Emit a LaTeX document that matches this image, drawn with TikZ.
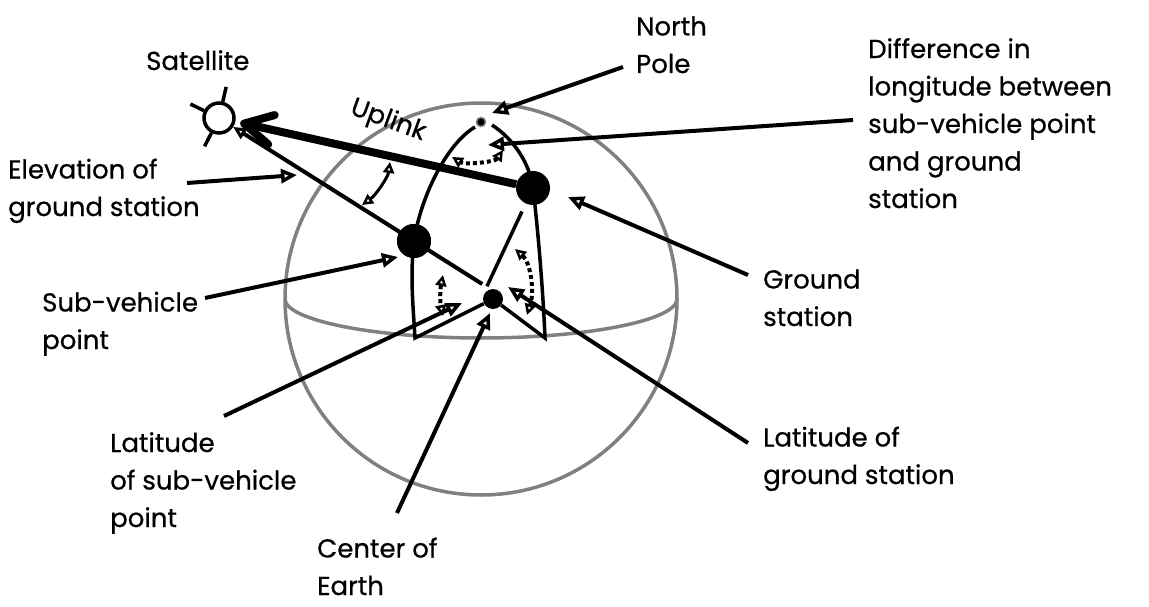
\documentclass[tikz,border=0pt]{standalone}
\usepackage{fontspec}
\setmainfont{Poppins}[FakeBold=0.6]
\usepackage{tikz}
\usetikzlibrary{arrows.meta,calc}
\definecolor{terre}{gray}{0.5}

\begin{document}
\begin{tikzpicture}[x=1pt,y=-1pt,
  etiquette/.style={anchor=base west,align=left,inner sep=0pt,
    font=\fontsize{26}{37.5}\selectfont},
  point/.style={circle,fill,inner sep=0pt,minimum size=#1},
  meridien/.style={line width=3.5pt},
  renvoi/.style={line width=4pt,
    -{Triangle[open,length=16pt,width=14pt,line width=3.5pt]}},
  pointille/.style={line width=4pt,dash pattern=on 4pt off 3pt,
    {Triangle[open,length=11pt,width=11pt,line width=2.5pt]}-{Triangle[open,length=11pt,width=11pt,line width=2.5pt]}}]
  \useasboundingbox (0,0) rectangle (1149,607);

  % Terre.
  \coordinate (o) at (481,299);
  \draw[terre,line width=3.5pt] (o) circle[radius=196pt];
  % Equateur.
  \draw[terre,line width=3.5pt] (285,299) .. controls (285,320) and (373,338) .. (481,338)
    .. controls (589,338) and (677,320) .. (677,299);

  % Points.
  \node[point=20pt] (centre) at (493,299) {};
  \node[point=34pt] (sub) at (414,241) {};
  \node[point=34pt] (gs) at (533,188) {};
  \node[point=9pt,draw=terre,line width=1.5pt] (pole) at (481,122) {};
  \coordinate (coinG) at (415,338);
  \coordinate (coinD) at (545,338);

  % Meridiens.
  \draw[meridien] (475,127) .. controls (445,145) and (420,200) .. (sub.center)
    .. controls (410,275) and (413,305) .. (coinG) -- (centre);
  \draw[meridien] (492,125) .. controls (515,140) and (530,165) .. (gs.center)
    .. controls (538,230) and (543,290) .. (coinD) -- (centre);
  \draw[meridien] ($(o)!14pt!(gs)$) -- ($(gs)!26pt!(o)$);

  % Satellite.
  \node[circle,draw,fill=white,line width=3.5pt,minimum size=30pt,inner sep=0pt] (sat) at (219,118) {};
  \foreach \a in {77,154,243}
    \draw[line width=3.5pt] (sat.\a) -- ($(sat.center)!1.9!(sat.\a)$);
  \coordinate (piedsat) at ($(sat)!1.35!(sub)$);
  \draw[line width=4pt,-{Triangle[open,length=13pt,width=12pt,line width=3pt]}] (piedsat) -- (sat);
  \node[point=34pt] at (sub) {};

  % Liaison montante.
  \draw[line width=8pt,shorten >=5pt,-{Straight Barb[round,length=28pt,width=30pt]}] (gs) -- (sat);
  \node[rotate=-20,font=\fontsize{26}{37.5}\selectfont] (tup) at (388,121) {Uplink};

  % Angles.
  \draw[line width=3pt,{Triangle[open,length=11pt,width=11pt,line width=2.5pt]}-{Triangle[open,length=11pt,width=11pt,line width=2.5pt]}]
    (390,162) .. controls (388,177) and (376,195) .. (362,205);
  \draw[pointille] (503,150) .. controls (495,162) and (465,165) .. (452,157);
  \draw[pointille] (443,275) .. controls (440,290) and (440,302) .. (443,316);
  \draw[pointille] (515,249) .. controls (530,262) and (535,290) .. (527,315);

  % Etiquettes (ancre sur la derniere ligne).
  \node[etiquette] (tsat) at (146,70) {Satellite};
  \node[etiquette] (tpole) at (636,73) {North\\Pole};
  \node[etiquette] (tdiff) at (868,208) {Difference in\\longitude between\\sub-vehicle point\\and ground\\station};
  \node[etiquette] (telev) at (8,216) {Elevation of\\ground station};
  \node[etiquette] (tgs) at (763,326) {Ground\\station};
  \node[etiquette] (tsub) at (42,349) {Sub-vehicle\\point};
  \node[etiquette] (tlatsub) at (110,527) {Latitude\\of sub-vehicle\\point};
  \node[etiquette] (tlatgs) at (763,484) {Latitude of\\ground station};
  \node[etiquette] (tcentre) at (317,595) {Center of\\Earth};

  % Renvois.
  \coordinate (rpole) at (623,67);       \coordinate (apole) at (492,113);
  \coordinate (rdiff) at (853,120);      \coordinate (adiff) at (488,145);
  \coordinate (relev) at (187,183);      \coordinate (aelev) at (297,175);
  \coordinate (rgs) at (748,275);        \coordinate (ags) at (568,197);
  \coordinate (rsub) at (205,298);       \coordinate (asub) at (398,257);
  \coordinate (rlatsub) at (224,416);    \coordinate (alatsub) at (462,303);
  \coordinate (rlatgs) at (748,443);     \coordinate (alatgs) at (508,287);
  \coordinate (rcentre) at (397,513);    \coordinate (acentre) at (490,313);
  \foreach \n in {pole,diff,elev,gs,sub,latsub,latgs,centre}
    \draw[renvoi] (r\n) -- (a\n);
\end{tikzpicture}
\end{document}
